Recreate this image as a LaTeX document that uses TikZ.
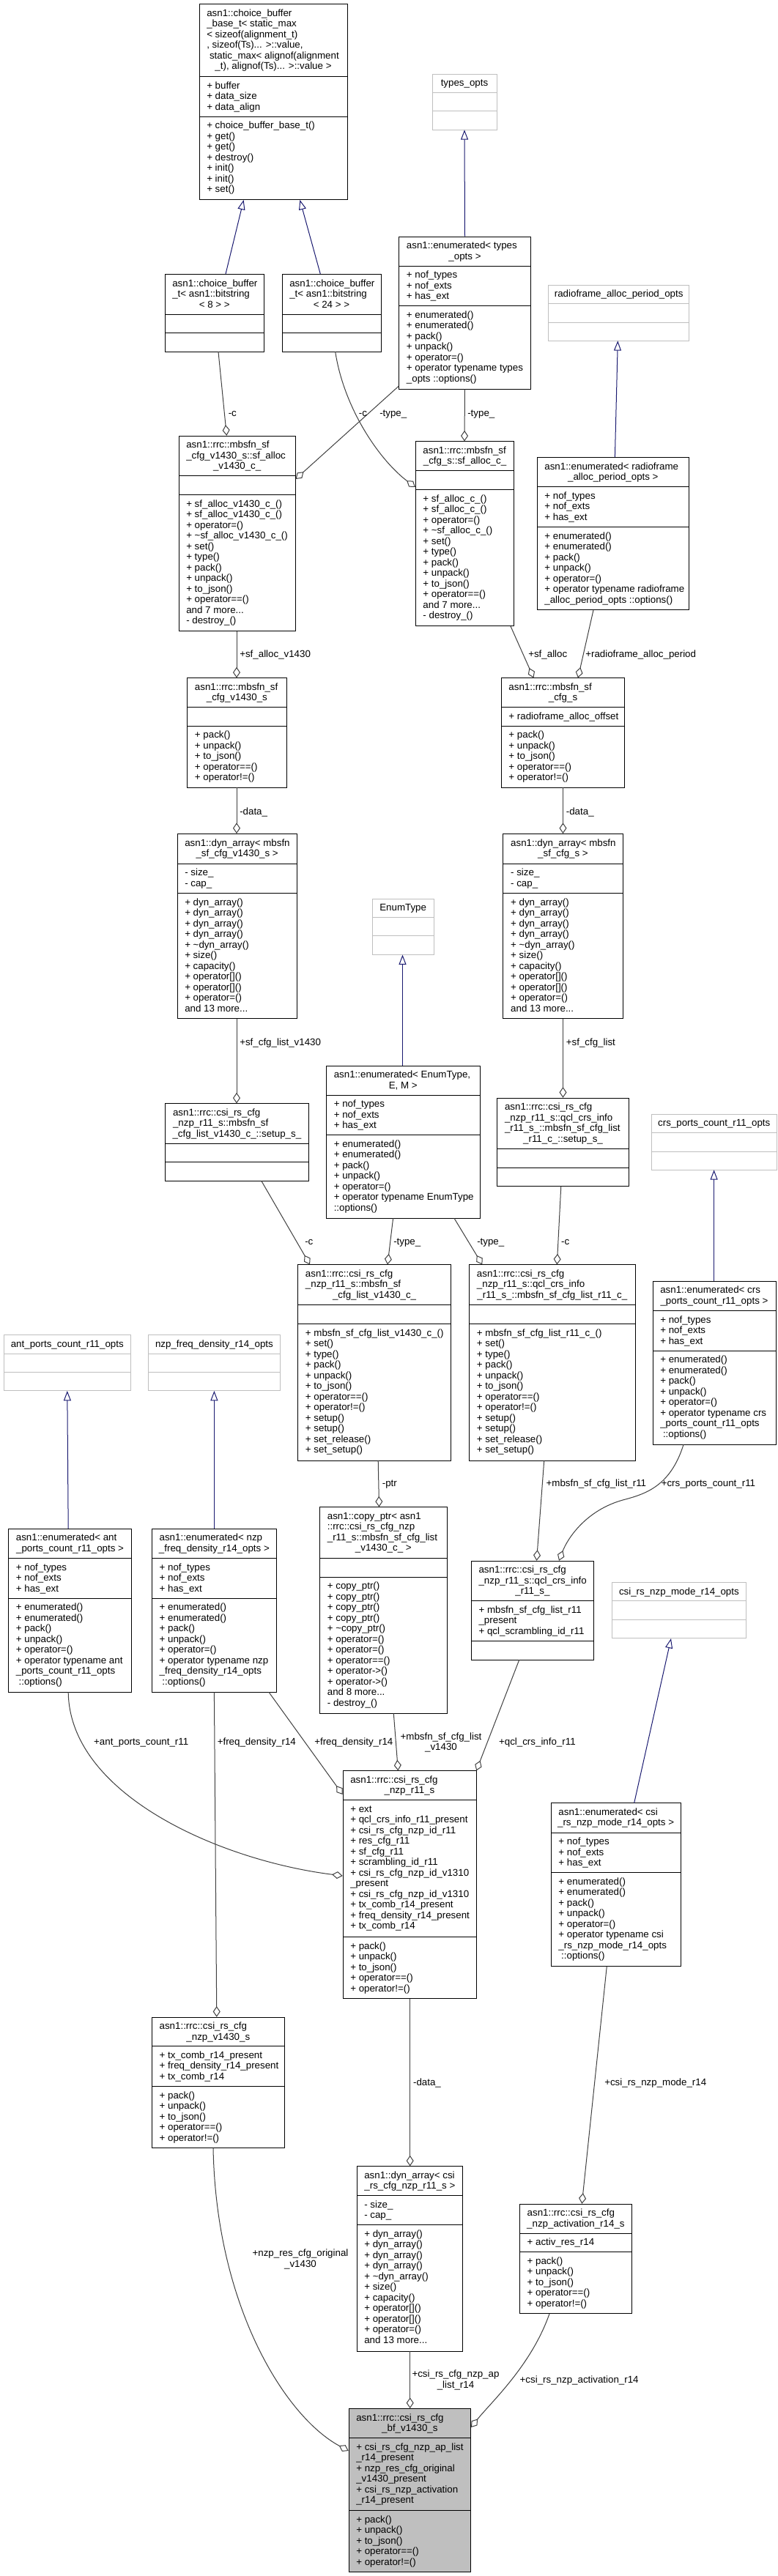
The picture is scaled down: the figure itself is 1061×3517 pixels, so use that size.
\documentclass[tikz,border=0pt]{standalone}
\usepackage{fontspec}
\setmainfont{Liberation Sans}
\usetikzlibrary{arrows.meta,fit,calc}
\definecolor{edgegrey}{HTML}{404040}
\definecolor{inhblue}{HTML}{191970}
\definecolor{optgrey}{HTML}{BFBFBF}
\definecolor{mainfill}{HTML}{BFBFBF}
\catcode`\_=12
\tikzset{
  clsbox/.style={draw=black, line width=0.75pt},
  optbox/.style={draw=optgrey, line width=0.75pt},
  mainbox/.style={draw=black, fill=mainfill, line width=0.75pt},
  txt/.style={inner sep=0pt, font=\fontsize{10}{10.875}\selectfont, align=left},
  lbl/.style={inner sep=0pt, font=\fontsize{10}{10.875}\selectfont, align=left, anchor=north west},
  clbl/.style={inner sep=0pt, font=\fontsize{10}{10.875}\selectfont, align=center, anchor=north},
  inh/.style={draw=inhblue, line width=0.75pt, -{Triangle[open, length=10pt, width=7.5pt, line width=0.75pt]}},
  comp/.style={draw=edgegrey, line width=0.75pt, -{Diamond[open, length=11pt, width=7.5pt, line width=0.75pt]}}
}
\newcommand\cls[8]{%
  \draw[#2] (#3,#5) rectangle (#4,#8);
  \draw[#2,fill=none] (#3,#6) -- (#4,#6) (#3,#7) -- (#4,#7);
  \node[fit={(#3,#5)(#4,#8)}, inner sep=0pt] (#1) {};
  \gdef\bxa{#3}\gdef\bxb{#4}\gdef\bya{#5}\gdef\byb{#6}\gdef\byc{#7}\gdef\bnm{#1}%
}
\newcommand\ttl[3]{%
  \ifnum#1>0 \node[txt, anchor=north west] (\bnm-t) at ({\bxa+10},{\bya+6.3}) {\strut#2};\fi
  \node[txt, anchor=north] (\bnm-tl) at ({(\bxa+\bxb)/2},{\bya+6.3+#1*14.5}) {\strut#3};}
\newcommand\att[1]{\node[txt, anchor=north west] (\bnm-a) at ({\bxa+10},{\byb+6.3}) {\strut#1};}
\newcommand\mth[1]{\node[txt, anchor=north west] (\bnm-m) at ({\bxa+10},{\byc+6.3}) {\strut#1};}
\newcommand\fivem{+ pack()\\+ unpack()\\+ to_json()\\+ operator==()\\+ operator!=()}
\newcommand\dynm{+ dyn_array()\\+ dyn_array()\\+ dyn_array()\\+ dyn_array()\\+ \textasciitilde dyn_array()\\+ size()\\+ capacity()\\+ operator[]()\\+ operator[]()\\+ operator=()\\and 13 more...}
\newcommand\enatt{+ nof_types\\+ nof_exts\\+ has_ext}
\begin{document}
\begin{tikzpicture}[x=0.75pt,y=-0.75pt]
\useasboundingbox (0,0) rectangle (1061,3517);
\fill[white] (0,0) rectangle (1061,3517);

% ---------- boxes ----------
\cls{b1}{clsbox}{272}{474}{5.7}{104.7}{159}{272.7}
\ttl{5}{asn1::choice_buffer\\_base_t< static_max\\< sizeof(alignment_t)\\, sizeof(Ts)... >::value,\\\hspace*{2.8pt}static_max< alignof(alignment}{_t), alignof(Ts)... >::value >}
\att{+ buffer\\+ data_size\\+ data_align}
\mth{+ choice_buffer_base_t()\\+ get()\\+ get()\\+ destroy()\\+ init()\\+ init()\\+ set()}

\cls{b2}{optbox}{590}{678}{101}{126.3}{151.7}{177}
\ttl{0}{}{types_opts}

\cls{b3}{clsbox}{225}{360.5}{374.3}{429}{454.3}{480}
\ttl{2}{asn1::choice_buffer\\_t< asn1::bitstring}{< 8 > >}

\cls{b4}{clsbox}{385}{520}{374.3}{429}{454.3}{480}
\ttl{2}{asn1::choice_buffer\\_t< asn1::bitstring}{< 24 > >}

\cls{b5}{clsbox}{544.7}{724.3}{323}{363}{417.7}{531}
\ttl{1}{asn1::enumerated< types}{_opts >}
\att{\enatt}
\mth{+ enumerated()\\+ enumerated()\\+ pack()\\+ unpack()\\+ operator=()\\+ operator typename types\\_opts ::options()}

\cls{b6}{optbox}{748.8}{940.6}{389}{414.3}{440}{465}
\ttl{0}{}{radioframe_alloc_period_opts}

\cls{b7}{clsbox}{244}{403.3}{595}{649.7}{675.3}{861.7}
\ttl{2}{asn1::rrc::mbsfn_sf\\_cfg_v1430_s::sf_alloc}{_v1430_c_}
\mth{+ sf_alloc_v1430_c_()\\+ sf_alloc_v1430_c_()\\+ operator=()\\+ \textasciitilde sf_alloc_v1430_c_()\\+ set()\\+ type()\\+ pack()\\+ unpack()\\+ to_json()\\+ operator==()\\and 7 more...\\- destroy_()}

\cls{b8}{clsbox}{567.2}{701.9}{602.7}{642.7}{668.3}{854.7}
\ttl{1}{asn1::rrc::mbsfn_sf}{_cfg_s::sf_alloc_c_}
\mth{+ sf_alloc_c_()\\+ sf_alloc_c_()\\+ operator=()\\+ \textasciitilde sf_alloc_c_()\\+ set()\\+ type()\\+ pack()\\+ unpack()\\+ to_json()\\+ operator==()\\and 7 more...\\- destroy_()}

\cls{b9}{clsbox}{733.1}{940.6}{624.3}{664.3}{719.3}{832.7}
\ttl{1}{asn1::enumerated< radioframe}{_alloc_period_opts >}
\att{\enatt}
\mth{+ enumerated()\\+ enumerated()\\+ pack()\\+ unpack()\\+ operator=()\\+ operator typename radioframe\\_alloc_period_opts ::options()}

\cls{b10}{clsbox}{255.7}{391}{925.7}{965.7}{991}{1075}
\ttl{1}{asn1::rrc::mbsfn_sf}{_cfg_v1430_s}
\mth{\fivem}

\cls{b11}{clsbox}{684.2}{852.9}{925.7}{965.7}{991}{1075}
\ttl{1}{asn1::rrc::mbsfn_sf}{_cfg_s}
\att{+ radioframe_alloc_offset}
\mth{\fivem}

\cls{b12}{clsbox}{242}{405.3}{1138.3}{1179}{1219.3}{1390.7}
\ttl{1}{asn1::dyn_array< mbsfn}{_sf_cfg_v1430_s >}
\att{- size_\\- cap_}
\mth{\dynm}

\cls{b13}{clsbox}{686.9}{850.1}{1138.3}{1179}{1219.3}{1390.7}
\ttl{1}{asn1::dyn_array< mbsfn}{_sf_cfg_s >}
\att{- size_\\- cap_}
\mth{\dynm}

\cls{b14}{optbox}{508}{592.4}{1227}{1252.3}{1277.7}{1303.3}
\ttl{0}{}{EnumType}

\cls{b16}{clsbox}{225.8}{421}{1506.7}{1561.7}{1586.7}{1612.3}
\ttl{2}{asn1::rrc::csi_rs_cfg\\_nzp_r11_s::mbsfn_sf}{_cfg_list_v1430_c_::setup_s_}

\cls{b17}{clsbox}{445.5}{655}{1455}{1495}{1549.7}{1663}
\ttl{1}{asn1::enumerated< EnumType,}{E, M >}
\att{\enatt}
\mth{+ enumerated()\\+ enumerated()\\+ pack()\\+ unpack()\\+ operator=()\\+ operator typename EnumType\\::options()}

\cls{b18}{clsbox}{678.8}{858.3}{1499}{1568.3}{1594}{1619.3}
\ttl{3}{asn1::rrc::csi_rs_cfg\\_nzp_r11_s::qcl_crs_info\\_r11_s_::mbsfn_sf_cfg_list}{_r11_c_::setup_s_}

\cls{b19}{optbox}{889}{1060.5}{1521}{1546.7}{1572.3}{1597}
\ttl{0}{}{crs_ports_count_r11_opts}

\cls{b20}{clsbox}{406.7}{615.5}{1726.7}{1781.7}{1807.3}{1994}
\ttl{2}{asn1::rrc::csi_rs_cfg\\_nzp_r11_s::mbsfn_sf}{_cfg_list_v1430_c_}
\mth{+ mbsfn_sf_cfg_list_v1430_c_()\\+ set()\\+ type()\\+ pack()\\+ unpack()\\+ to_json()\\+ operator==()\\+ operator!=()\\+ setup()\\+ setup()\\+ set_release()\\+ set_setup()}

\cls{b21}{clsbox}{640.7}{867}{1726.7}{1781.7}{1807.3}{1994}
\ttl{2}{asn1::rrc::csi_rs_cfg\\_nzp_r11_s::qcl_crs_info}{_r11_s_::mbsfn_sf_cfg_list_r11_c_}
\mth{+ mbsfn_sf_cfg_list_r11_c_()\\+ set()\\+ type()\\+ pack()\\+ unpack()\\+ to_json()\\+ operator==()\\+ operator!=()\\+ setup()\\+ setup()\\+ set_release()\\+ set_setup()}

\cls{b22}{clsbox}{891}{1059}{1749}{1789.3}{1844}{1972}
\ttl{1}{asn1::enumerated< crs}{_ports_count_r11_opts >}
\att{\enatt}
\mth{+ enumerated()\\+ enumerated()\\+ pack()\\+ unpack()\\+ operator=()\\+ operator typename crs\\_ports_count_r11_opts\\\hspace*{2.8pt}::options()}

\cls{b23}{optbox}{5.4}{178.2}{1822.7}{1848}{1873.3}{1898.7}
\ttl{0}{}{ant_ports_count_r11_opts}

\cls{b24}{optbox}{202.7}{382.2}{1822.7}{1848}{1873.3}{1898.7}
\ttl{0}{}{nzp_freq_density_r14_opts}

\cls{b25}{clsbox}{11.6}{179.5}{2087}{2127.3}{2182}{2310}
\ttl{1}{asn1::enumerated< ant}{_ports_count_r11_opts >}
\att{\enatt}
\mth{+ enumerated()\\+ enumerated()\\+ pack()\\+ unpack()\\+ operator=()\\+ operator typename ant\\_ports_count_r11_opts\\\hspace*{2.8pt}::options()}

\cls{b26}{clsbox}{207.4}{377.4}{2087}{2127.3}{2182}{2310}
\ttl{1}{asn1::enumerated< nzp}{_freq_density_r14_opts >}
\att{\enatt}
\mth{+ enumerated()\\+ enumerated()\\+ pack()\\+ unpack()\\+ operator=()\\+ operator typename nzp\\_freq_density_r14_opts\\\hspace*{2.8pt}::options()}

\cls{b27}{clsbox}{436.6}{610}{2057.7}{2127.7}{2153}{2339}
\ttl{3}{asn1::copy_ptr< asn1\\::rrc::csi_rs_cfg_nzp\\_r11_s::mbsfn_sf_cfg_list}{_v1430_c_ >}
\mth{+ copy_ptr()\\+ copy_ptr()\\+ copy_ptr()\\+ copy_ptr()\\+ \textasciitilde copy_ptr()\\+ operator=()\\+ operator=()\\+ operator==()\\+ operator->()\\+ operator->()\\and 8 more...\\- destroy_()}

\cls{b28}{clsbox}{643.3}{810.6}{2131}{2185.7}{2240.7}{2266}
\ttl{2}{asn1::rrc::csi_rs_cfg\\_nzp_r11_s::qcl_crs_info}{_r11_s_}
\att{+ mbsfn_sf_cfg_list_r11\\_present\\+ qcl_scrambling_id_r11}

\cls{b29}{optbox}{835.8}{1018}{2160.7}{2185.7}{2211.3}{2236.7}
\ttl{0}{}{csi_rs_nzp_mode_r14_opts}

\cls{b30}{clsbox}{752.2}{929}{2461.7}{2502}{2556.7}{2684.3}
\ttl{1}{asn1::enumerated< csi}{_rs_nzp_mode_r14_opts >}
\att{\enatt}
\mth{+ enumerated()\\+ enumerated()\\+ pack()\\+ unpack()\\+ operator=()\\+ operator typename csi\\_rs_nzp_mode_r14_opts\\\hspace*{2.8pt}::options()}

\cls{b31}{clsbox}{468}{650}{2417.7}{2457.3}{2644.3}{2728.3}
\ttl{1}{asn1::rrc::csi_rs_cfg}{_nzp_r11_s}
\att{+ ext\\+ qcl_crs_info_r11_present\\+ csi_rs_cfg_nzp_id_r11\\+ res_cfg_r11\\+ sf_cfg_r11\\+ scrambling_id_r11\\+ csi_rs_cfg_nzp_id_v1310\\_present\\+ csi_rs_cfg_nzp_id_v1310\\+ tx_comb_r14_present\\+ freq_density_r14_present\\+ tx_comb_r14}
\mth{\fivem}

\cls{b32}{clsbox}{207.4}{388.3}{2754}{2793.7}{2848.7}{2932.3}
\ttl{1}{asn1::rrc::csi_rs_cfg}{_nzp_v1430_s}
\att{+ tx_comb_r14_present\\+ freq_density_r14_present\\+ tx_comb_r14}
\mth{\fivem}

\cls{b33}{clsbox}{487}{631.8}{2957.7}{2997.7}{3037.3}{3210}
\ttl{1}{asn1::dyn_array< csi}{_rs_cfg_nzp_r11_s >}
\att{- size_\\- cap_}
\mth{\dynm}

\cls{b34}{clsbox}{709.4}{862.4}{3009}{3049}{3074.3}{3158.7}
\ttl{1}{asn1::rrc::csi_rs_cfg}{_nzp_activation_r14_s}
\att{+ activ_res_r14}
\mth{\fivem}

\cls{b35}{mainbox}{476}{642.7}{3288.3}{3328.3}{3427.3}{3511}
\ttl{1}{asn1::rrc::csi_rs_cfg}{_bf_v1430_s}
\att{+ csi_rs_cfg_nzp_ap_list\\_r14_present\\+ nzp_res_cfg_original\\_v1430_present\\+ csi_rs_nzp_activation\\_r14_present}
\mth{\fivem}

% ---------- inheritance ----------
\draw[inh] (308,0 |- b3.north) -- (332.6,0 |- b1.south);
\draw[inh] (437.3,0 |- b4.north) -- (409.4,0 |- b1.south);
\draw[inh] (634.5,0 |- b5.north) -- (634,0 |- b2.south);
\draw[inh] (839.4,0 |- b9.north) -- (843.3,0 |- b6.south);
\draw[inh] (549.5,0 |- b17.north) -- (549.5,0 |- b14.south);
\draw[inh] (974.6,0 |- b22.north) -- (974.6,0 |- b19.south);
\draw[inh] (93.2,0 |- b25.north) -- (91.8,0 |- b23.south);
\draw[inh] (292.4,0 |- b26.north) -- (292.4,0 |- b24.south);
\draw[inh] (865.7,0 |- b30.north) -- (916,0 |- b29.south);

% ---------- composition ----------
\draw[comp] (298,0 |- b3.south) -- (309.4,0 |- b7.north);
\draw[comp] (457.7,0 |- b4.south) .. controls (470,560) and (520,630) .. (b8.west |- 0,665);
\draw[comp] (b5.west |- 0,527) -- (b7.east |- 0,654);
\draw[comp] (634.5,0 |- b5.south) -- (634,0 |- b8.north);
\draw[comp] (323,0 |- b7.south) -- (323,0 |- b10.north);
\draw[comp] (697,0 |- b8.south) -- (728.4,0 |- b11.north);
\draw[comp] (810,0 |- b9.south) -- (789,0 |- b11.north);
\draw[comp] (323,0 |- b10.south) -- (323,0 |- b12.north);
\draw[comp] (768.5,0 |- b11.south) -- (768.5,0 |- b13.north);
\draw[comp] (323,0 |- b12.south) -- (323,0 |- b16.north);
\draw[comp] (768.5,0 |- b13.south) -- (768.5,0 |- b18.north);
\draw[comp] (357,0 |- b16.south) -- (423,0 |- b20.north);
\draw[comp] (536.6,0 |- b17.south) -- (529,0 |- b20.north);
\draw[comp] (620,0 |- b17.south) -- (658.3,0 |- b21.north);
\draw[comp] (765.8,0 |- b18.south) -- (760.3,0 |- b21.north);
\draw[comp] (516.2,0 |- b20.south) -- (517.5,0 |- b27.north);
\draw[comp] (742.7,0 |- b21.south) -- (732.5,0 |- b28.north);
\draw[comp] (933,0 |- b22.south) .. controls (915,2030) and (880,2040) .. (850,2048) .. controls (800,2062) and (775,2100) .. (763,0 |- b28.north);
\draw[comp] (93.2,0 |- b25.south) .. controls (95,2450) and (300,2540) .. (b31.west |- 0,2561);
\draw[comp] (292.4,0 |- b26.south) -- (295.8,0 |- b32.north);
\draw[comp] (367,0 |- b26.south) -- (b31.west |- 0,2450);
\draw[comp] (537.3,0 |- b27.south) -- (543.4,0 |- b31.north);
\draw[comp] (708.7,0 |- b28.south) -- (b31.north east);
\draw[comp] (559.7,0 |- b31.south) -- (559.7,0 |- b33.north);
\draw[comp] (828.3,0 |- b30.south) -- (794.3,0 |- b34.north);
\draw[comp] (291,0 |- b32.south) .. controls (295,3150) and (390,3300) .. (b35.west |- 0,3346);
\draw[comp] (559.7,0 |- b33.south) -- (559.7,0 |- b35.north);
\draw[comp] (750,0 |- b34.south) .. controls (725,3230) and (670,3280) .. (b35.east |- 0,3314);

% ---------- labels ----------
\node[lbl] (l1) at (311.5,557.7) {\strut -c};
\node[lbl] (l2) at (489.6,557.7) {\strut -c};
\node[lbl] (l3) at (518,557.7) {\strut -type_};
\node[lbl] (l4) at (638,557.7) {\strut -type_};
\node[lbl] (l5) at (327,887) {\strut +sf_alloc_v1430};
\node[lbl] (l6) at (721,887) {\strut +sf_alloc};
\node[lbl] (l7) at (799,887) {\strut +radioframe_alloc_period};
\node[lbl] (l8) at (327,1101.7) {\strut -data_};
\node[lbl] (l9) at (772.6,1101.7) {\strut -data_};
\node[lbl] (l10) at (327,1417) {\strut +sf_cfg_list_v1430};
\node[lbl] (l11) at (772.6,1417) {\strut +sf_cfg_list};
\node[lbl] (l12) at (416,1689.4) {\strut -c};
\node[lbl] (l13) at (537,1689.4) {\strut -type_};
\node[lbl] (l14) at (651,1689.4) {\strut -type_};
\node[lbl] (l15) at (765.8,1689.4) {\strut -c};
\node[lbl] (l16) at (521.6,2019.4) {\strut -ptr};
\node[lbl] (l17) at (745.4,2019.4) {\strut +mbsfn_sf_cfg_list_r11};
\node[lbl] (l18) at (902.5,2019.4) {\strut +crs_ports_count_r11};
\node[lbl] (l19) at (127.9,2372) {\strut +ant_ports_count_r11};
\node[lbl] (l20) at (296.5,2372) {\strut +freq_density_r14};
\node[lbl] (l21) at (429,2372) {\strut +freq_density_r14};
\node[clbl] (l22) at (602,2365) {\strut +mbsfn_sf_cfg_list\\_v1430};
\node[lbl] (l23) at (680.8,2372) {\strut +qcl_crs_info_r11};
\node[lbl] (l24) at (563.8,2836.7) {\strut -data_};
\node[lbl] (l25) at (825,2836.7) {\strut +csi_rs_nzp_mode_r14};
\node[clbl] (l26) at (410,3070.4) {\strut +nzp_res_cfg_original\\_v1430};
\node[clbl] (l27) at (622,3235.4) {\strut +csi_rs_cfg_nzp_ap\\_list_r14};
\node[lbl] (l28) at (709.4,3243.4) {\strut +csi_rs_nzp_activation_r14};
\end{tikzpicture}
\end{document}
